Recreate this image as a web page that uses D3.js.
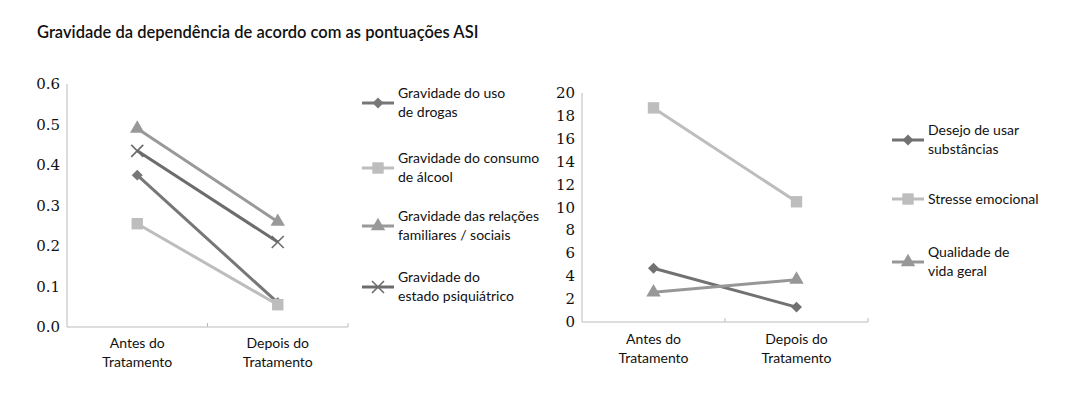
<!DOCTYPE html>
<html>
<head>
<meta charset="utf-8">
<script src="https://cdn.jsdelivr.net/npm/d3@7"></script>
<style>
  body { margin: 0; background: #fff; }
  .sans { font-family: Lato, "Open Sans", sans-serif; fill: #111; }
  .serif { font-family: 'DejaVu Serif', serif; fill: #111; font-size: 15px; }
</style>
</head>
<body>
<svg id="chart" width="1080" height="412"></svg>
<script>
const svg = d3.select('#chart');

// data
const categories = ['Antes do\nTratamento', 'Depois do\nTratamento'];

const leftSeries = ['Gravidade do uso\nde drogas', 'Gravidade do consumo\nde álcool',
  'Gravidade das relações\nfamiliares / sociais', 'Gravidade do\nestado psiquiátrico'];
const leftValues = [
  [0.375, 0.06],
  [0.255, 0.055],
  [0.49, 0.26],
  [0.435, 0.21]
];
const leftTicks = ['0.0', '0.1', '0.2', '0.3', '0.4', '0.5', '0.6'];

const rightSeries = ['Desejo de usar\nsubstâncias', 'Stresse emocional', 'Qualidade de\nvida geral'];
const rightValues = [
  [4.7, 1.3],
  [18.7, 10.5],
  [2.6, 3.7]
];
const rightTicks = [0, 2, 4, 6, 8, 10, 12, 14, 16, 18, 20];

// styles
const leftStyle = [
  { color: '#777', marker: 'diamond' },
  { color: '#bdbdbd', marker: 'square' },
  { color: '#999', marker: 'triangle' },
  { color: '#6c6c6c', marker: 'x' }
];
const rightStyle = [
  { color: '#717171', marker: 'diamond' },
  { color: '#bdbdbd', marker: 'square' },
  { color: '#979797', marker: 'triangle' }
];

svg.append('text')
  .attr('class', 'sans')
  .attr('x', 37).attr('y', 38)
  .style('font-size', '16.5px')
  .style('font-weight', 600)
  .text('Gravidade da dependência de acordo com as pontuações ASI');

function drawMarker(g, type, color, x, y) {
  if (type == 'x') {
    const s = 6;
    g.append('path')
      .attr('d', `M${x - s},${y - s}L${x + s},${y + s}M${x - s},${y + s}L${x + s},${y - s}`)
      .attr('stroke', color).attr('stroke-width', 1.6).attr('fill', 'none');
    return;
  }
  let sym = d3.symbolSquare, size = 130, rot = 0;
  if (type == 'diamond') { size = 60; rot = 45; }
  if (type == 'triangle') { sym = d3.symbolTriangle; size = 90; }
  g.append('path')
    .attr('d', d3.symbol().type(sym).size(size)())
    .attr('transform', `translate(${x},${y}) rotate(${rot})`)
    .attr('fill', color);
}

function multiline(g, text, x, y, lineH, anchor) {
  const lines = text.split('\n');
  const t = g.append('text').attr('class', 'sans')
    .attr('text-anchor', anchor).style('font-size', '14px');
  lines.forEach((l, i) => {
    t.append('tspan').attr('x', x).attr('y', y + i * lineH).text(l);
  });
  return t;
}

function drawPanel(opts) {
  const g = svg.append('g');
  const x = d3.scaleBand().domain(categories).range([opts.x0, opts.x1]);
  const y = d3.scaleLinear().domain(opts.domain).range([opts.y0, opts.y1]);

  // axes
  g.append('line')
    .attr('x1', opts.x0).attr('x2', opts.x0).attr('y1', opts.y0).attr('y2', opts.y1)
    .attr('stroke', '#bbb');
  g.append('line')
    .attr('x1', opts.x0).attr('x2', opts.x1).attr('y1', opts.y0).attr('y2', opts.y0)
    .attr('stroke', '#bbb');
  [opts.x0 + x.bandwidth(), opts.x1].forEach(tx => {
    g.append('line').attr('x1', tx).attr('x2', tx)
      .attr('y1', opts.y0 - 4).attr('y2', opts.y0).attr('stroke', '#bbb');
  });

  opts.ticks.forEach(t => {
    g.append('text')
      .attr('class', 'serif')
      .attr('x', opts.x0 - 7).attr('y', y(+t) + 5)
      .attr('text-anchor', 'end')
      .text(t);
  });

  categories.forEach(c => {
    multiline(g, c, x(c) + x.bandwidth() / 2, opts.y0 + opts.labelDy, 19, 'middle');
  });

  const line = d3.line()
    .x((d, i) => x(categories[i]) + x.bandwidth() / 2)
    .y(d => y(d));

  opts.values.forEach((vals, k) => {
    const st = opts.styles[k];
    g.append('path').attr('d', line(vals))
      .attr('fill', 'none').attr('stroke', st.color).attr('stroke-width', 3);
  });
  opts.values.forEach((vals, k) => {
    const st = opts.styles[k];
    vals.forEach((v, i) => {
      drawMarker(g, st.marker, st.color, x(categories[i]) + x.bandwidth() / 2, y(v));
    });
  });

  // legend
  opts.series.forEach((name, k) => {
    const st = opts.styles[k];
    const ly = opts.legendY[k];
    g.append('line')
      .attr('x1', opts.legendX).attr('x2', opts.legendX + 32)
      .attr('y1', ly).attr('y2', ly)
      .attr('stroke', st.color).attr('stroke-width', 3);
    drawMarker(g, st.marker, st.color, opts.legendX + 16, ly);
    const n = name.split('\n').length;
    const top = n == 1 ? ly + 5 : ly - 5;
    multiline(g, name, opts.legendX + 36, top, 19, 'start');
  });
}

drawPanel({
  x0: 67, x1: 348, y0: 327, y1: 84,
  domain: [0, 0.6],
  ticks: leftTicks,
  values: leftValues,
  styles: leftStyle,
  series: leftSeries,
  labelDy: 21,
  legendX: 362,
  legendY: [103, 168, 226, 287]
});

drawPanel({
  x0: 582, x1: 868, y0: 322, y1: 93,
  domain: [0, 20],
  ticks: rightTicks,
  values: rightValues,
  styles: rightStyle,
  series: rightSeries,
  labelDy: 22,
  legendX: 892,
  legendY: [140, 199, 262]
});
</script>
</body>
</html>
